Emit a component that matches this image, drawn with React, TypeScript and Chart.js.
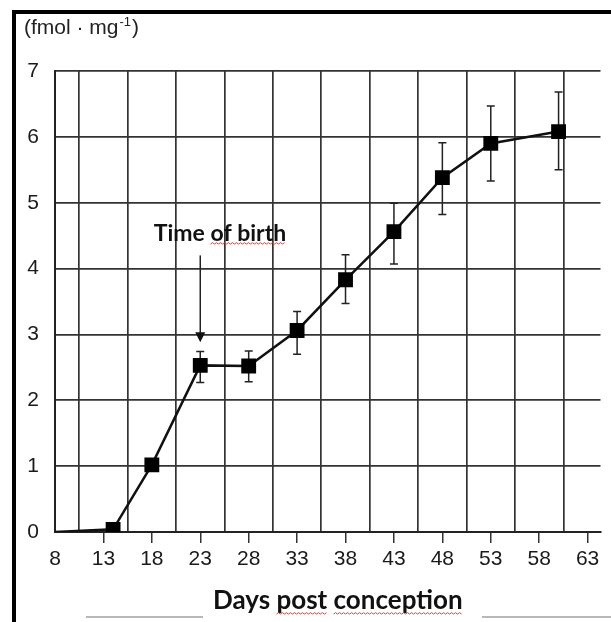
import React, { useEffect, useRef } from 'react';
import { Chart, registerables } from 'chart.js';

Chart.register(...registerables);

// Data
const days = [8, 14, 18, 23, 28, 33, 38, 43, 48, 53, 60];
const values = [0, 0.04, 1.02, 2.53, 2.52, 3.06, 3.83, 4.56, 5.38, 5.9, 6.08];
const errLow: (number | null)[] = [null, null, null, 2.27, 2.28, 2.7, 3.47, 4.07, 4.82, 5.33, 5.5];
const errHigh: (number | null)[] = [null, null, null, 2.74, 2.75, 3.35, 4.21, 4.99, 5.91, 6.47, 6.68];
const xTickValues = [8, 13, 18, 23, 28, 33, 38, 43, 48, 53, 58, 63];
const xGridValues = [10.5, 15.5, 20.5, 25.5, 30.5, 35.5, 40.5, 45.5, 50.5, 55.5, 60.5];
const yTickValues = [0, 1, 2, 3, 4, 5, 6, 7];
const birthDay = 23;
const yUnitLabel = '(fmol \u00B7 mg';
const yUnitSup = '-1';
const xTitle = 'Days post conception';
const birthLabel = 'Time of birth';

const W = 611;
const H = 622;

function squiggle(ctx: CanvasRenderingContext2D, x0: number, x1: number, y: number) {
  ctx.save();
  ctx.strokeStyle = '#e0423c';
  ctx.lineWidth = 1;
  ctx.beginPath();
  let up = true;
  ctx.moveTo(x0, y);
  for (let x = x0 + 2; x <= x1; x += 2) {
    ctx.lineTo(x, up ? y - 1.3 : y);
    up = !up;
  }
  ctx.stroke();
  ctx.restore();
}

const decorPlugin = {
  id: 'decor',
  beforeDatasetsDraw(chart: any) {
    const ctx: CanvasRenderingContext2D = chart.ctx;
    const xs = chart.scales.x;
    const ys = chart.scales.y;
    ctx.save();
    ctx.strokeStyle = '#222';
    ctx.lineWidth = 1.5;
    for (let i = 0; i < days.length; i++) {
      const lo = errLow[i];
      const hi = errHigh[i];
      if (lo == null || hi == null) continue;
      const x = xs.getPixelForValue(days[i]);
      const yl = ys.getPixelForValue(lo);
      const yh = ys.getPixelForValue(hi);
      ctx.beginPath();
      ctx.moveTo(x, yl);
      ctx.lineTo(x, yh);
      ctx.moveTo(x - 4, yl);
      ctx.lineTo(x + 4, yl);
      ctx.moveTo(x - 4, yh);
      ctx.lineTo(x + 4, yh);
      ctx.stroke();
    }
    ctx.restore();
  },
  afterDraw(chart: any) {
    const ctx: CanvasRenderingContext2D = chart.ctx;
    const xs = chart.scales.x;
    const ys = chart.scales.y;
    ctx.save();
    // frame
    ctx.fillStyle = '#000';
    ctx.fillRect(12, 10, 4, H - 10);
    ctx.fillRect(12, 10, W - 12, 4);

    // unit label
    ctx.fillStyle = '#222';
    ctx.textBaseline = 'alphabetic';
    ctx.textAlign = 'left';
    ctx.font = '21px "Liberation Sans", Arial, sans-serif';
    ctx.fillText(yUnitLabel, 24, 34);
    let x = 24 + ctx.measureText(yUnitLabel).width + 1;
    ctx.font = '13px "Liberation Sans", Arial, sans-serif';
    ctx.fillText(yUnitSup, x, 26);
    x += ctx.measureText(yUnitSup).width + 1;
    ctx.font = '21px "Liberation Sans", Arial, sans-serif';
    ctx.fillText(')', x, 34);

    // birth arrow
    const ax = xs.getPixelForValue(birthDay);
    const tipY = ys.getPixelForValue(2.88);
    const startY = ys.getPixelForValue(4.2);
    ctx.strokeStyle = '#222';
    ctx.lineWidth = 1.5;
    ctx.beginPath();
    ctx.moveTo(ax, startY);
    ctx.lineTo(ax, tipY - 8);
    ctx.stroke();
    ctx.fillStyle = '#111';
    ctx.beginPath();
    ctx.moveTo(ax - 5, tipY - 10);
    ctx.lineTo(ax + 5, tipY - 10);
    ctx.lineTo(ax, tipY);
    ctx.closePath();
    ctx.fill();

    // birth label
    ctx.fillStyle = '#111';
    ctx.font = 'bold 23px Lato, "Open Sans", sans-serif';
    ctx.textAlign = 'center';
    ctx.fillText(birthLabel, 220, 241);
    const bw = ctx.measureText(birthLabel).width;
    const ofW = ctx.measureText('Time ').width;
    squiggle(ctx, 220 - bw / 2 + ofW, 220 + bw / 2, 244);

    // x title
    ctx.font = 'bold 26px Lato, "Open Sans", sans-serif';
    ctx.textAlign = 'left';
    ctx.fillText(xTitle, 213, 609);
    const dW = ctx.measureText('Days ').width;
    const pW = ctx.measureText('post').width;
    const spW = ctx.measureText('post ').width;
    const tW = ctx.measureText(xTitle).width;
    squiggle(ctx, 213 + dW, 213 + dW + pW, 614);
    squiggle(ctx, 213 + dW + spW, 213 + tW, 614);

    // faint underline strokes
    ctx.strokeStyle = '#b8b8b8';
    ctx.lineWidth = 2;
    ctx.beginPath();
    ctx.moveTo(86, 617);
    ctx.lineTo(203, 617);
    ctx.moveTo(482, 617);
    ctx.lineTo(W, 617);
    ctx.stroke();
    ctx.restore();
  },
};

export default function App() {
  const ref = useRef<HTMLCanvasElement | null>(null);
  useEffect(() => {
    document.body.style.margin = '0';
    document.body.style.background = '#fff';
    const canvas = ref.current;
    if (!canvas) return;
    const tickFont = { family: '"Liberation Sans", Arial, sans-serif', size: 21 };
    const chart = new Chart(canvas, {
      type: 'scatter',
      data: {
        datasets: [
          {
            data: days.map((d, i) => ({ x: d, y: values[i] })),
            showLine: true,
            borderColor: '#111',
            borderWidth: 2.5,
            pointStyle: 'rect',
            pointRadius: (c: any) => (c.dataIndex === 0 ? 0 : 10.5),
            pointBackgroundColor: '#000',
            pointBorderColor: '#000',
            pointBorderWidth: 0,
            tension: 0,
          },
        ],
      },
      options: {
        responsive: false,
        animation: false,
        events: [],
        layout: { padding: { top: 71, left: 0, right: 0, bottom: 0 } },
        plugins: { legend: { display: false }, tooltip: { enabled: false }, title: { display: false } },
        scales: {
          x: {
            type: 'linear',
            position: 'bottom',
            min: 8,
            max: 64.33,
            afterBuildTicks: (s: any) => {
              s.ticks = xTickValues.map((v) => ({ value: v }));
            },
            afterFit: (s: any) => {
              s.height = 90;
            },
            grid: {
              drawOnChartArea: false,
              drawTicks: true,
              tickLength: 11,
              lineWidth: 1.5,
              color: (c: any) => (c.tick && c.tick.value === 8 ? 'rgba(0,0,0,0)' : '#333'),
            },
            border: { display: true, color: '#222', width: 2 },
            ticks: { font: tickFont, color: '#1a1a1a', padding: 4, maxRotation: 0, autoSkip: false, callback: (v: any) => String(v) },
          },
          x2: {
            type: 'linear',
            axis: 'x',
            position: 'bottom',
            display: true,
            min: 8,
            max: 64.33,
            afterBuildTicks: (s: any) => {
              s.ticks = xGridValues.map((v) => ({ value: v }));
            },
            afterFit: (s: any) => {
              s.height = 0;
            },
            grid: { drawOnChartArea: true, drawTicks: false, color: '#333', lineWidth: 1.7 },
            border: { display: false },
            ticks: { display: false },
          },
          y: {
            type: 'linear',
            position: 'left',
            min: 0,
            max: 7,
            afterBuildTicks: (s: any) => {
              s.ticks = yTickValues.map((v) => ({ value: v }));
            },
            afterFit: (s: any) => {
              s.width = 55;
            },
            grid: { drawTicks: false, color: '#333', lineWidth: 1.7 },
            border: { display: true, color: '#222', width: 2 },
            ticks: { font: tickFont, color: '#1a1a1a', padding: 16, callback: (v: any) => String(v) },
          },
        },
      } as any,
      plugins: [decorPlugin],
    });
    return () => chart.destroy();
  }, []);
  return (
    <div style={{ position: 'absolute', left: 0, top: 0, width: W, height: H, overflow: 'hidden', background: '#fff' }}>
      <canvas ref={ref} width={W} height={H} style={{ display: 'block', width: W, height: H }} />
    </div>
  );
}
